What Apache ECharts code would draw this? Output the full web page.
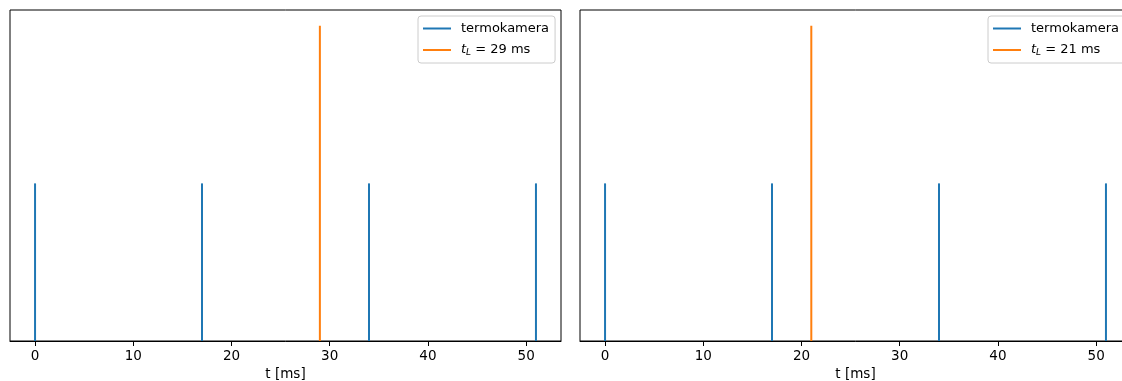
<!DOCTYPE html>
<html>
<head>
<meta charset="utf-8">
<script src="https://cdn.jsdelivr.net/npm/echarts@6/dist/echarts.min.js"></script>
<style>
  html, body { margin: 0; padding: 0; background: #fff; overflow: hidden; }
  #chart { width: 1140px; height: 381px; }
</style>
</head>
<body>
<div id="chart"></div>
<script>
// Camera frame instants (ms) and laser trigger times for the two panels
const cameraTimes = [0, 17, 34, 51];
const cameraHeight = 0.5;
const laserTimesLeft = [29];
const laserTimesRight = [21];
const laserHeight = 1;
const xTicks = [0, 10, 20, 30, 40, 50];
const xRange = [-2.55, 53.55];
const yRange = [0, 1.05];
const cameraName = 'termokamera';
const laserNameLeft = 't_L = 29 ms';
const laserNameRight = 't_L = 21 ms';

const BLUE = '#1f77b4';
const ORANGE = '#ff7f0e';
const FONT = 'DejaVu Sans';

const chart = echarts.init(document.getElementById('chart'), null, { renderer: 'canvas' });

// vertical stem from y=0 up to the value
function stem(color) {
  return function (params, api) {
    const x = api.value(0);
    const p0 = api.coord([x, 0]);
    const p1 = api.coord([x, api.value(1)]);
    return {
      type: 'line',
      shape: { x1: p0[0], y1: p0[1], x2: p1[0], y2: p1[1] },
      style: { stroke: color, lineWidth: 2 }
    };
  };
}

function xAxisFor(gridIndex) {
  return {
    type: 'value', gridIndex: gridIndex,
    min: xRange[0], max: xRange[1],
    name: 't [ms]', nameLocation: 'middle', nameGap: 25,
    nameTextStyle: { fontFamily: FONT, fontSize: 13.5, color: '#000' },
    splitLine: { show: false },
    axisLine: { show: true, lineStyle: { color: '#000', width: 1 } },
    axisTick: { show: true, inside: false, length: 5, lineStyle: { color: '#000' }, customValues: xTicks },
    axisLabel: { fontFamily: FONT, fontSize: 13.5, color: '#000', margin: 8, customValues: xTicks }
  };
}

function yAxisFor(gridIndex) {
  return {
    type: 'value', gridIndex: gridIndex,
    min: yRange[0], max: yRange[1],
    show: false, splitLine: { show: false }
  };
}

function legendFor(left, laserName) {
  return {
    orient: 'vertical',
    left: left, top: 16,
    data: [
      { name: cameraName, icon: 'rect' },
      { name: laserName, icon: 'rect' }
    ],
    itemWidth: 28, itemHeight: 2, itemGap: 7,
    padding: [6, 6, 6, 5],
    borderColor: '#cccccc', borderWidth: 1, borderRadius: 3,
    backgroundColor: 'rgba(255,255,255,0.8)',
    selectedMode: false,
    formatter: function (name) {
      if (name.indexOf('t_L') === 0) {
        return '{it|t}{sub|L}{n|' + name.slice(3) + '}';
      }
      return '{n|' + name + '}';
    },
    textStyle: {
      fontFamily: FONT, fontSize: 13, color: '#000', padding: [0, 0, 0, 5],
      rich: {
        n: { fontFamily: FONT, fontSize: 13, color: '#000', lineHeight: 14 },
        it: { fontFamily: FONT, fontSize: 13, fontStyle: 'italic', color: '#000', lineHeight: 14 },
        sub: { fontFamily: FONT, fontSize: 9, fontStyle: 'italic', color: '#000', verticalAlign: 'bottom', lineHeight: 14, padding: [6, 0, 0, 0] }
      }
    }
  };
}

function toPairs(xs, h) { return xs.map(function (x) { return [x, h]; }); }

const gridBase = { top: 10, width: 551, height: 331, show: true, borderColor: '#000', borderWidth: 1,
  backgroundColor: 'transparent', containLabel: false, outerBoundsMode: 'none' };

const option = {
  animation: false,
  backgroundColor: '#fff',
  grid: [
    Object.assign({ left: 10 }, gridBase),
    Object.assign({ left: 580 }, gridBase)
  ],
  xAxis: [xAxisFor(0), xAxisFor(1)],
  yAxis: [yAxisFor(0), yAxisFor(1)],
  legend: [legendFor(418, laserNameLeft), legendFor(988, laserNameRight)],
  series: [
    { name: cameraName, type: 'custom', xAxisIndex: 0, yAxisIndex: 0, color: BLUE,
      renderItem: stem(BLUE), data: toPairs(cameraTimes, cameraHeight) },
    { name: laserNameLeft, type: 'custom', xAxisIndex: 0, yAxisIndex: 0, color: ORANGE,
      renderItem: stem(ORANGE), data: toPairs(laserTimesLeft, laserHeight) },
    { name: cameraName, type: 'custom', xAxisIndex: 1, yAxisIndex: 1, color: BLUE,
      renderItem: stem(BLUE), data: toPairs(cameraTimes, cameraHeight) },
    { name: laserNameRight, type: 'custom', xAxisIndex: 1, yAxisIndex: 1, color: ORANGE,
      renderItem: stem(ORANGE), data: toPairs(laserTimesRight, laserHeight) }
  ]
};

chart.setOption(option);
</script>
</body>
</html>
